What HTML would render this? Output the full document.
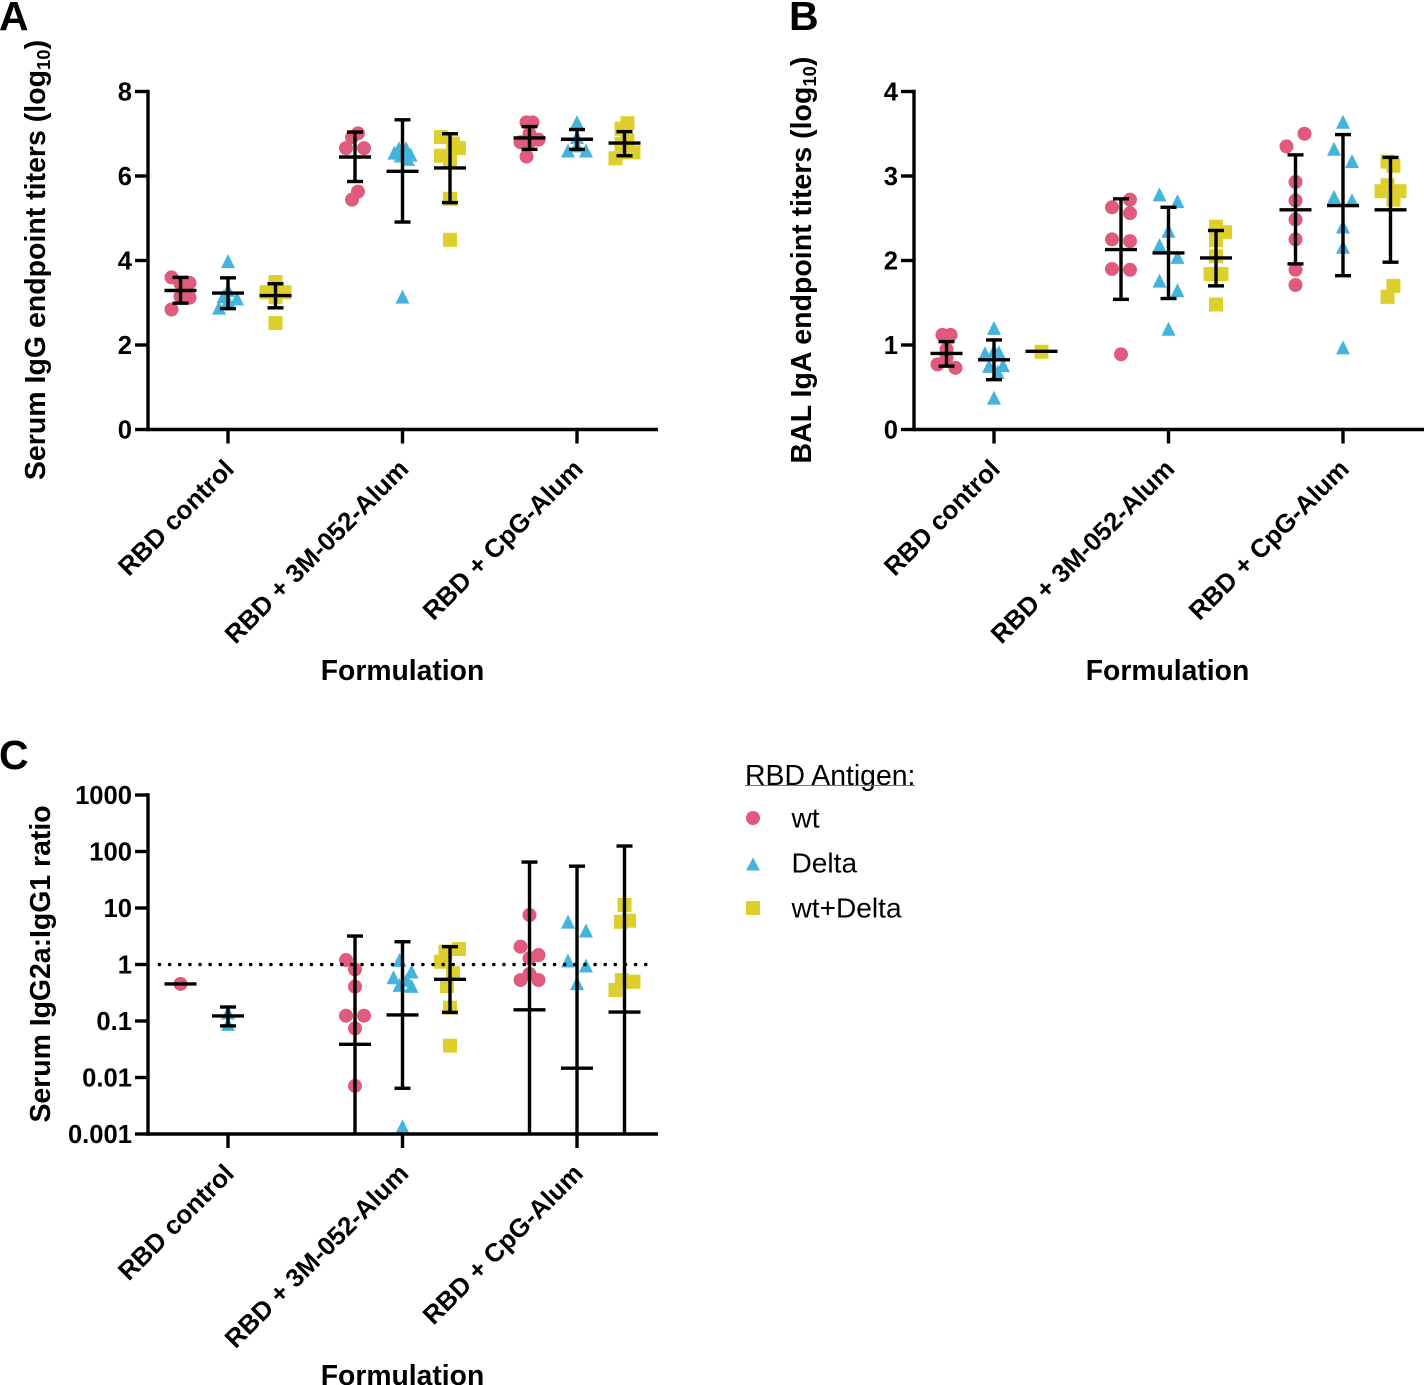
<!DOCTYPE html>
<html>
<head>
<meta charset="utf-8">
<title>Antibody titers by formulation</title>
<style>
html,body{margin:0;padding:0;background:#fff}
svg{display:block}
text{font-family:"Liberation Sans",sans-serif;fill:#000}
.b{font-weight:700}
</style>
</head>
<body>
<svg id="figure" xmlns="http://www.w3.org/2000/svg" width="1424" height="1385" viewBox="0 0 1424 1385">
  <text class="b" x="-1" y="30" font-size="41">A</text>
  <text class="b" x="789" y="30" font-size="41">B</text>
  <text class="b" x="-1" y="769" font-size="41">C</text>
  <text class="b" transform="translate(45,260) rotate(-90)" text-anchor="middle" font-size="28.5">Serum IgG endpoint titers (log<tspan font-size="18.5" dy="5">10</tspan><tspan dy="-5">)</tspan></text>
  <text class="b" transform="translate(811,260) rotate(-90)" text-anchor="middle" font-size="28.5">BAL IgA endpoint titers (log<tspan font-size="18.5" dy="5">10</tspan><tspan dy="-5">)</tspan></text>
  <text class="b" transform="translate(50,964) rotate(-90)" text-anchor="middle" font-size="28.4">Serum IgG2a:IgG1 ratio</text>
  <text class="b" x="402.5" y="680" text-anchor="middle" font-size="28.3">Formulation</text>
  <text class="b" x="1167.5" y="680" text-anchor="middle" font-size="28.3">Formulation</text>
  <text class="b" x="402.5" y="1385" text-anchor="middle" font-size="28.3">Formulation</text>
  <g id="panels"></g>
  <g id="legend">
    <text x="745" y="785" font-size="28.4">RBD Antigen:</text>
    <line x1="745" x2="915" y1="785.5" y2="785.5" stroke="#777" stroke-width="1"/>
    <circle cx="753" cy="818" r="7" fill="#df5a7c"/>
    <text x="791.5" y="827.5" font-size="28.1">wt</text>
    <polygon points="753,857.5 760,870.5 746,870.5" fill="#44b4dd"/>
    <text x="791.5" y="872.5" font-size="28.1">Delta</text>
    <rect x="746" y="901" width="14" height="14" fill="#ddd02c"/>
    <text x="791.5" y="917.5" font-size="28.1">wt+Delta</text>
  </g>
</svg>
<script>
const categories = ["RBD control", "RBD + 3M-052-Alum", "RBD + CpG-Alum"];
const antigens = ["wt", "Delta", "wt+Delta"];

const ticksA = [0, 2, 4, 6, 8];
const ticksB = [0, 1, 2, 3, 4];
const ticksC = [0.001, 0.01, 0.1, 1, 10, 100, 1000];
const tickLabelsC = ["0.001", "0.01", "0.1", "1", "10", "100", "1000"];

/* Panel A: Serum IgG endpoint titers, log10 */
const a_control_wt = [3.60, 3.47, 3.45, 3.15, 3.12, 2.84];
const a_control_delta = [3.98, 3.30, 3.15, 3.10, 3.05, 2.88];
const a_control_mix = [3.49, 3.25, 3.25, 3.28, 3.13, 2.52];
const a_3m_wt = [7.01, 6.92, 6.66, 6.66, 5.63, 5.44];
const a_3m_delta = [6.65, 6.65, 6.62, 6.55, 6.50, 6.48, 6.40, 3.14];
const a_3m_mix = [6.92, 6.77, 6.66, 6.48, 6.33, 5.46, 4.49];
const a_cpg_wt = [7.27, 7.27, 7.00, 6.86, 6.80, 6.80, 6.46];
const a_cpg_delta = [7.27, 6.92, 6.72, 6.60, 6.60];
const a_cpg_mix = [7.25, 7.12, 6.84, 6.76, 6.56, 6.56, 6.42];
/* beeswarm column of each point, in half-marker steps from the group centre */
const a_control_wt_col = [-1, 1, 0, 0, 1, -1];
const a_control_delta_col = [0, 0, -0.5, 1, 0, -1];
const a_control_mix_col = [0, -1, 1, 0, 0, 0];
const a_3m_wt_col = [0.33, -0.33, -1, 1, 0.33, -0.33];
const a_3m_delta_col = [-0.4, 0.4, 0, -0.9, 0.9, -0.2, 0.6, 0];
const a_3m_mix_col = [-1, 0.33, 1, -1, 0, 0, 0];
const a_cpg_wt_col = [-0.33, 0.33, 0, 1, -1, 0, -0.33];
const a_cpg_delta_col = [0, 0, 0, -1, 1];
const a_cpg_mix_col = [0.33, -0.33, 0.33, -0.33, 1, -0.33, -1];
const a_means = [3.29, 3.23, 3.17, 6.45, 6.11, 6.19, 6.90, 6.87, 6.78];
const a_upper = [3.60, 3.59, 3.45, 7.04, 7.33, 7.00, 7.17, 7.10, 7.05];
const a_lower = [2.99, 2.86, 2.88, 5.87, 4.91, 5.37, 6.63, 6.63, 6.48];

/* Panel B: BAL IgA endpoint titers, log10 */
const b_control_wt = [1.12, 1.12, 0.95, 0.85, 0.77, 0.73];
const b_control_delta = [1.20, 0.93, 0.90, 0.91, 0.75, 0.76, 0.68, 0.375];
const b_control_mix = [0.92];
const b_3m_wt = [2.72, 2.63, 2.56, 2.25, 2.23, 1.90, 1.89, 0.89];
const b_3m_delta = [2.78, 2.70, 2.35, 2.18, 2.04, 1.76, 1.645, 1.19];
const b_3m_mix = [2.40, 2.335, 2.24, 2.05, 1.84, 1.84, 1.48];
const b_cpg_wt = [3.50, 3.35, 2.93, 2.71, 2.485, 2.25, 1.89, 1.71];
const b_cpg_delta = [3.64, 3.32, 3.175, 2.75, 2.71, 2.40, 2.16, 0.97];
const b_cpg_mix = [3.17, 3.12, 2.89, 2.82, 2.82, 2.72, 1.70, 1.57];
const b_control_wt_col = [-0.45, 0.45, 0, 0, -1, 1];
const b_control_delta_col = [0, 0, -1, 0.55, -0.55, 1, 0.4, 0];
const b_control_mix_col = [0];
const b_3m_wt_col = [1, -1, 1, -1, 1, -1, 1, 0];
const b_3m_delta_col = [-1, 1, 0, -1, 1, -1, 1, 0];
const b_3m_mix_col = [0, 1, 0, 0, -0.6, 0.6, 0];
const b_cpg_wt_col = [1, -1, 0, 0, 0, 0, 0, 0];
const b_cpg_delta_col = [0, -1, 1, -1, 1, 0, 0, 0];
const b_cpg_mix_col = [-0.33, 0.33, -0.33, -1, 1, 0.33, 0.33, -0.33];
const b_means = [0.90, 0.825, 0.925, 2.13, 2.09, 2.03, 2.60, 2.65, 2.60];
const b_upper = [1.04, 1.06, 0.925, 2.73, 2.63, 2.355, 3.25, 3.49, 3.22];
const b_lower = [0.75, 0.59, 0.925, 1.54, 1.55, 1.70, 1.96, 1.82, 1.98];

/* Panel C: Serum IgG2a:IgG1 ratio */
const c_control_wt = [0.452];
const c_control_delta = [0.14, 0.088];
const c_control_mix = [];
const c_3m_wt = [1.2, 0.82, 0.405, 0.124, 0.124, 0.074, 0.0071];
const c_3m_delta = [1.2, 0.746, 0.59, 0.53, 0.433, 0.416, 0.00135];
const c_3m_mix = [1.88, 1.69, 1.12, 0.70, 0.416, 0.172, 0.0366];
const c_cpg_wt = [7.5, 2.07, 1.47, 1.29, 0.68, 0.53, 0.53];
const c_cpg_delta = [5.7, 3.97, 1.17, 0.95, 0.465];
const c_cpg_mix = [11.3, 5.96, 5.7, 0.53, 0.495, 0.495, 0.354];
const c_control_wt_col = [0];
const c_control_delta_col = [0, 0];
const c_control_mix_col = [];
const c_3m_wt_col = [-1, 0, 0, -1, 1, 0, 0];
const c_3m_delta_col = [-0.33, 1, -1, 0.45, -0.33, 1, 0];
const c_3m_mix_col = [1, -0.5, -1, 0.33, -0.33, 0, 0];
const c_cpg_wt_col = [0, -1, 1, 0, 0, -1, 1];
const c_cpg_delta_col = [-1, 1, -1, 1, 0];
const c_cpg_mix_col = [0, 0.5, -0.4, -0.3, 1, 0.5, -1];
const c_means = [0.452, 0.123, null, 0.0387, 0.128, 0.547, 0.158, 0.0146, 0.144];
const c_upper = [0.452, 0.177, null, 3.19, 2.53, 2.07, 65, 55, 125];
const c_lower = [0.452, 0.082, null, 0.0005, 0.00645, 0.142, 0.0005, 0.0005, 0.0005];

const referenceRatio = 1;

const antigenColors = ["#df5a7c", "#44b4dd", "#ddd02c"];
const NS = "http://www.w3.org/2000/svg";
const root = document.getElementById("panels");

function make(parent, tag, name, attrs, interactable) {
  const el = document.createElementNS(NS, tag);
  
  
  for (const k in attrs) el.setAttribute(k, attrs[k]);
  parent.appendChild(el);
  return el;
}

function rule(parent, name, x1, y1, x2, y2, width) {
  return make(parent, "line", name, { x1, y1, x2, y2, stroke: "#000", "stroke-width": width || 3.4 });
}

function marker(parent, name, sub, cx, cy) {
  const fill = antigenColors[sub];
  if (sub === 0) return make(parent, "circle", name, { cx, cy, r: 7, fill });
  if (sub === 1) return make(parent, "polygon", name, {
    points: cx + "," + (cy - 7.2) + " " + (cx + 7) + "," + (cy + 6.8) + " " + (cx - 7) + "," + (cy + 6.8), fill });
  return make(parent, "rect", name, { x: cx - 7, y: cy - 7, width: 14, height: 14, fill });
}

function drawPanel(cfg) {
  const g = make(root, "g", "chart-" + cfg.key, {});
  const groupX = (c, s) => cfg.left + 80 + 174.5 * c + 47.5 * (s - 1);
  const bottomVal = cfg.ticks[0];

  /* data points below error bars */
  cfg.values.forEach((v, i) => {
    const c = Math.floor(i / 3), s = i % 3;
    v.forEach((val, j) => {
      const cx = groupX(c, s) + cfg.columns[i][j] * 9;
      marker(g, "point-" + cfg.key + "-" + antigens[s].replace("+", "-").toLowerCase() + "-" + c, s, cx, cfg.y(val));
    });
  });

  /* reference line */
  if (cfg.reference !== undefined) {
    make(g, "line", "reference-line", {
      x1: cfg.left + 11.5, x2: cfg.left + 505, y1: cfg.y(cfg.reference), y2: cfg.y(cfg.reference),
      stroke: "#000", "stroke-width": 3.6, "stroke-linecap": "round", "stroke-dasharray": "0 10.13" });
  }

  /* mean and error bars */
  cfg.means.forEach((m, i) => {
    if (m === null) return;
    const x = groupX(Math.floor(i / 3), i % 3);
    const hi = cfg.upper[i], lo = cfg.lower[i];
    const yTop = cfg.y(hi);
    const clipped = lo < bottomVal;
    const yBot = clipped ? cfg.y(bottomVal) : cfg.y(lo);
    if (hi !== lo) {
      rule(g, "error-bar-" + cfg.key + "-" + i, x, yTop, x, yBot);
      rule(g, "error-cap-upper-" + cfg.key + "-" + i, x - 8, yTop, x + 8, yTop);
      if (!clipped) rule(g, "error-cap-lower-" + cfg.key + "-" + i, x - 8, yBot, x + 8, yBot);
    }
    rule(g, "mean-line-" + cfg.key + "-" + i, x - 16, cfg.y(m), x + 16, cfg.y(m));
  });

  /* axes */
  const yAxisTop = cfg.y(cfg.ticks[cfg.ticks.length - 1]);
  const yAxisBot = cfg.y(bottomVal);
  rule(g, "y-axis-" + cfg.key, cfg.left, yAxisTop - 1.7, cfg.left, yAxisBot + 1.7);
  rule(g, "x-axis-" + cfg.key, cfg.left, yAxisBot, cfg.left + 510, yAxisBot);

  cfg.ticks.forEach((t, i) => {
    const y = cfg.y(t);
    rule(g, "y-tick-" + cfg.key + "-" + i, cfg.left - 13, y, cfg.left, y);
    const label = make(g, "text", "y-tick-label-" + cfg.key + "-" + i, {
      x: cfg.left - 16, y: y + 9, "text-anchor": "end", "font-size": 25.6, class: "b" });
    label.textContent = cfg.labels[i];
  });

  categories.forEach((name, c) => {
    const x = groupX(c, 1);
    rule(g, "x-tick-" + cfg.key + "-" + c, x, yAxisBot, x, yAxisBot + 14);
    const ty = yAxisBot + 41;
    const label = make(g, "text", "x-tick-label-" + cfg.key + "-" + c, {
      x: x + 7.5, y: ty, "text-anchor": "end", "font-size": 25.9, class: "b",
      transform: "rotate(-45 " + (x + 7.5) + " " + ty + ")" });
    label.textContent = name;
  });
}

const linearY = (zero, pxPerUnit) => v => zero - v * pxPerUnit;
const logY = (atOne, pxPerDecade) => v => atOne - Math.log10(v) * pxPerDecade;

drawPanel({
  key: "a", left: 148, y: linearY(429.5, 42.25), ticks: ticksA, labels: ticksA,
  values: [a_control_wt, a_control_delta, a_control_mix, a_3m_wt, a_3m_delta, a_3m_mix, a_cpg_wt, a_cpg_delta, a_cpg_mix],
  columns: [a_control_wt_col, a_control_delta_col, a_control_mix_col, a_3m_wt_col, a_3m_delta_col, a_3m_mix_col, a_cpg_wt_col, a_cpg_delta_col, a_cpg_mix_col],
  means: a_means, upper: a_upper, lower: a_lower
});
drawPanel({
  key: "b", left: 914, y: linearY(429.5, 84.5), ticks: ticksB, labels: ticksB,
  values: [b_control_wt, b_control_delta, b_control_mix, b_3m_wt, b_3m_delta, b_3m_mix, b_cpg_wt, b_cpg_delta, b_cpg_mix],
  columns: [b_control_wt_col, b_control_delta_col, b_control_mix_col, b_3m_wt_col, b_3m_delta_col, b_3m_mix_col, b_cpg_wt_col, b_cpg_delta_col, b_cpg_mix_col],
  means: b_means, upper: b_upper, lower: b_lower
});
drawPanel({
  key: "c", left: 148, y: logY(964.5, 56.5), ticks: ticksC, labels: tickLabelsC,
  values: [c_control_wt, c_control_delta, c_control_mix, c_3m_wt, c_3m_delta, c_3m_mix, c_cpg_wt, c_cpg_delta, c_cpg_mix],
  columns: [c_control_wt_col, c_control_delta_col, c_control_mix_col, c_3m_wt_col, c_3m_delta_col, c_3m_mix_col, c_cpg_wt_col, c_cpg_delta_col, c_cpg_mix_col],
  means: c_means, upper: c_upper, lower: c_lower, reference: referenceRatio
});
</script>
</body>
</html>
